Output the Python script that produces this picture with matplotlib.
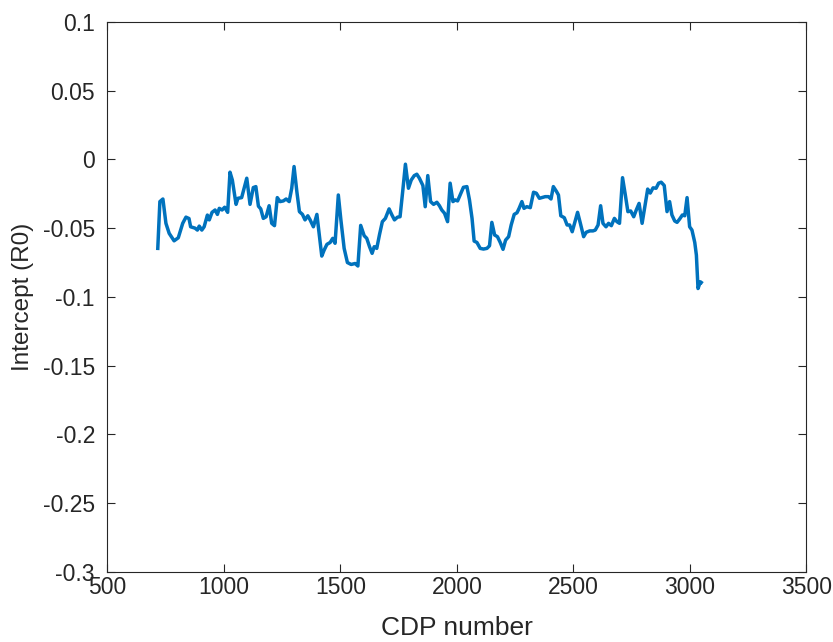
import matplotlib.pyplot as plt

# Intercept (R0) picked along the line, CDP by CDP
cdp = [716, 725, 738, 751, 765, 786, 804, 823, 837, 850, 857, 876, 886, 894,
       905, 915, 929, 937, 949, 962, 972, 980, 992, 1003, 1016, 1026, 1036,
       1052, 1060, 1076, 1098, 1112, 1126, 1137, 1148, 1158, 1169, 1181, 1194,
       1205, 1217, 1229, 1241, 1255, 1267, 1280, 1291, 1301, 1313, 1324, 1337,
       1348, 1360, 1370, 1384, 1399, 1410, 1420, 1430, 1442, 1456, 1467, 1477,
       1491, 1502, 1516, 1530, 1546, 1563, 1575, 1587, 1602, 1613, 1625, 1636,
       1645, 1656, 1668, 1680, 1693, 1709, 1721, 1732, 1745, 1756, 1768, 1779,
       1792, 1804, 1817, 1828, 1839, 1854, 1864, 1875, 1887, 1900, 1914, 1925,
       1935, 1947, 1960, 1971, 1983, 1993, 2003, 2014, 2028, 2043, 2054, 2065,
       2074, 2086, 2100, 2114, 2129, 2140, 2150, 2162, 2174, 2186, 2198, 2209,
       2222, 2233, 2246, 2258, 2267, 2279, 2288, 2300, 2315, 2329, 2341, 2354,
       2365, 2379, 2393, 2404, 2414, 2427, 2436, 2446, 2461, 2473, 2484, 2495,
       2507, 2518, 2530, 2544, 2555, 2570, 2584, 2594, 2606, 2617, 2627, 2640,
       2651, 2663, 2676, 2687, 2698, 2711, 2723, 2734, 2746, 2759, 2770, 2782,
       2795, 2807, 2819, 2830, 2842, 2855, 2866, 2877, 2890, 2902, 2913, 2923,
       2935, 2945, 2956, 2968, 2978, 2988, 2999, 3009, 3021, 3028, 3035, 3045,
       3049]
r0 = [-0.0647, -0.0307, -0.0288, -0.0465, -0.0538, -0.0592, -0.0570, -0.0465,
      -0.0420, -0.0430, -0.0490, -0.0500, -0.0514, -0.0485, -0.0514, -0.0490,
      -0.0405, -0.0440, -0.0385, -0.0368, -0.0400, -0.0356, -0.0368, -0.0348,
      -0.0385, -0.0093, -0.0150, -0.0327, -0.0283, -0.0278, -0.0137, -0.0327,
      -0.0205, -0.0198, -0.0340, -0.0360, -0.0429, -0.0417, -0.0337, -0.0465,
      -0.0482, -0.0278, -0.0307, -0.0302, -0.0288, -0.0307, -0.0210, -0.0052,
      -0.0235, -0.0380, -0.0400, -0.0440, -0.0410, -0.0440, -0.0490, -0.0400,
      -0.0562, -0.0703, -0.0660, -0.0618, -0.0604, -0.0574, -0.0610, -0.0259,
      -0.0440, -0.0647, -0.0750, -0.0764, -0.0757, -0.0775, -0.0480, -0.0555,
      -0.0574, -0.0635, -0.0683, -0.0635, -0.0647, -0.0545, -0.0453, -0.0429,
      -0.0360, -0.0404, -0.0440, -0.0420, -0.0417, -0.0222, -0.0035, -0.0210,
      -0.0150, -0.0118, -0.0108, -0.0137, -0.0190, -0.0344, -0.0118, -0.0307,
      -0.0327, -0.0312, -0.0337, -0.0368, -0.0392, -0.0453, -0.0173, -0.0307,
      -0.0295, -0.0302, -0.0259, -0.0203, -0.0198, -0.0295, -0.0429, -0.0594,
      -0.0604, -0.0647, -0.0652, -0.0647, -0.0628, -0.0458, -0.0550, -0.0562,
      -0.0604, -0.0654, -0.0587, -0.0562, -0.0477, -0.0400, -0.0388, -0.0356,
      -0.0307, -0.0356, -0.0344, -0.0351, -0.0239, -0.0246, -0.0283, -0.0278,
      -0.0271, -0.0271, -0.0288, -0.0198, -0.0232, -0.0259, -0.0410, -0.0424,
      -0.0477, -0.0477, -0.0526, -0.0453, -0.0385, -0.0465, -0.0562, -0.0530,
      -0.0520, -0.0520, -0.0514, -0.0477, -0.0337, -0.0465, -0.0490, -0.0465,
      -0.0482, -0.0429, -0.0453, -0.0465, -0.0133, -0.0259, -0.0380, -0.0375,
      -0.0417, -0.0368, -0.0320, -0.0465, -0.0340, -0.0216, -0.0245, -0.0207,
      -0.0210, -0.0173, -0.0166, -0.0190, -0.0380, -0.0307, -0.0404, -0.0448,
      -0.0458, -0.0434, -0.0404, -0.0410, -0.0278, -0.0490, -0.0514, -0.0604,
      -0.0696, -0.0939, -0.0890, -0.0895]

x_ticks = [500, 1000, 1500, 2000, 2500, 3000, 3500]
y_ticks = [0.1, 0.05, 0, -0.05, -0.1, -0.15, -0.2, -0.25, -0.3]
y_labels = ['0.1', '0.05', '0', '-0.05', '-0.1', '-0.15', '-0.2', '-0.25', '-0.3']

plt.rcParams['font.family'] = ['Liberation Sans', 'DejaVu Sans']

fig = plt.figure(figsize=(8.33, 6.42), dpi=100)
ax = fig.add_axes([0.129, 0.109, 0.839, 0.857])
ax.plot(cdp, r0, color='#0072BD', linewidth=2.5)

ax.set_xlim(500, 3500)
ax.set_ylim(-0.3, 0.1)
ax.set_xticks(x_ticks)
ax.set_xticklabels([str(t) for t in x_ticks])
ax.set_yticks(y_ticks)
ax.set_yticklabels(y_labels)
ax.tick_params(direction='in', length=6, width=0.8, color='#262626',
               labelcolor='#262626', labelsize=16.5, top=True, right=True)
ax.tick_params(axis='y', pad=9)
ax.tick_params(axis='x', pad=3)
for s in ax.spines.values():
    s.set_color('#262626')
    s.set_linewidth(0.8)

ax.set_xlabel('CDP number', fontsize=19, color='#262626', labelpad=12)
ax.set_ylabel('Intercept (R0)', fontsize=17.5, color='#262626', labelpad=6)

fig.savefig('out.png', dpi=100)
